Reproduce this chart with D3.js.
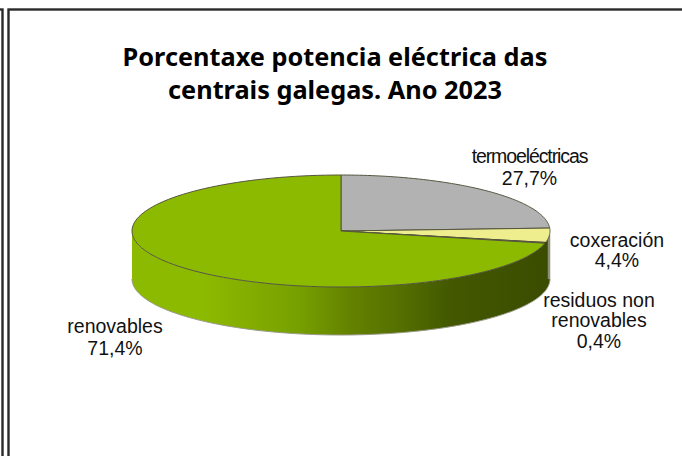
<!DOCTYPE html>
<html>
<head>
<meta charset="utf-8">
<script src="https://cdn.jsdelivr.net/npm/d3@7"></script>
<style>
  html, body { margin: 0; padding: 0; background: #fff; }
</style>
</head>
<body>
<div id="graph"></div>
<script>
var categories = ["termoeléctricas", "coxeración", "residuos non renovables", "renovables"];
var shares = [27.7, 4.4, 0.4, 71.4];
var shareLabels = ["27,7%", "4,4%", "0,4%", "71,4%"];
var titleLines = ["Porcentaxe potencia eléctrica das", "centrais galegas. Ano 2023"];

var width = 682, height = 456;
var cx = 341, cy = 231, rx = 209, ry = 56, depth = 48;
var colors = ["#b2b2b2", "#eeee8e", "#7a2e1e", "#8cba00"];

var svg = d3.select("#graph").append("svg")
    .attr("width", width)
    .attr("height", height)
    .style("display", "block");

// frames, the second runs off the page on the right and at the bottom
var frames = [[-20, 9.5, 22.5, 470], [8.5, 9.5, 700, 470]];
svg.selectAll("rect.frame").data(frames).enter().append("rect")
    .attr("class", "frame")
    .attr("x", function(d) { return d[0]; })
    .attr("y", function(d) { return d[1]; })
    .attr("width", function(d) { return d[2]; })
    .attr("height", function(d) { return d[3]; })
    .attr("fill", "none")
    .attr("stroke", "#2a2a2a")
    .attr("stroke-width", 2.4);

var pie = d3.pie().sort(null)(shares);

// the slices are seen in perspective, so the drawn angles are not the true ones
var deg = Math.PI / 180;
var warp = d3.scaleLinear()
    .domain([0, pie[0].endAngle, pie[1].endAngle, pie[2].endAngle, 2 * Math.PI])
    .range([0, 87 * deg, 101.8 * deg, 102.6 * deg, 360 * deg]);

function px(a) { return cx + rx * Math.sin(a); }
function py(a) { return cy - ry * Math.cos(a); }

function sweep(a0, a1) {
    var n = 120;
    return d3.range(n + 1).map(function(i) { return a0 + (a1 - a0) * i / n; });
}

var slices = pie.map(function(d, i) {
    return {i: i, a0: warp(d.startAngle), a1: warp(d.endAngle)};
});

// side gradient
var defs = svg.append("defs");
var grad = defs.append("linearGradient")
    .attr("id", "side")
    .attr("gradientUnits", "userSpaceOnUse")
    .attr("x1", cx - rx).attr("x2", cx + rx)
    .attr("y1", 0).attr("y2", 0);
var stops = [[0, "#8cba00"], [0.17, "#8cba00"], [0.28, "#84ad00"], [0.4, "#76a000"], [0.52, "#648200"], [0.64, "#557000"], [0.76, "#435800"], [0.88, "#3f5200"], [1, "#3a4c00"]];
grad.selectAll("stop").data(stops).enter().append("stop")
    .attr("offset", function(d) { return d[0]; })
    .attr("stop-color", function(d) { return d[1]; });

// visible part of the wall runs along the front half of the ellipse
var wall = d3.area()
    .x(function(a) { return px(a); })
    .y0(function(a) { return py(a); })
    .y1(function(a) { return py(a) + depth; });

svg.append("path")
    .attr("d", wall(sweep(90 * deg, 270 * deg)))
    .attr("fill", "url(#side)");

var edgeLine = d3.line().x(function(a) { return px(a); }).y(function(a) { return py(a) + depth; });
svg.append("path")
    .attr("d", edgeLine(sweep(90 * deg, 270 * deg)))
    .attr("fill", "none")
    .attr("stroke", "#9a9a8a")
    .attr("stroke-width", 1);

// lighter strip at the right end of the wall
svg.append("path")
    .attr("d", d3.line()([[px(90 * deg) - 1, py(90 * deg) + 4], [px(90 * deg) - 1, py(90 * deg) + depth]]))
    .attr("fill", "none")
    .attr("stroke", "#8d8d78")
    .attr("stroke-width", 2.5);

// top surface
var topLine = d3.line().x(function(p) { return p[0]; }).y(function(p) { return p[1]; });
svg.selectAll("path.slice").data(slices).enter().append("path")
    .attr("class", "slice")
    .attr("d", function(d) {
        var pts = [[cx, cy]].concat(sweep(d.a0, d.a1).map(function(a) { return [px(a), py(a)]; }));
        return topLine(pts) + "Z";
    })
    .attr("fill", function(d) { return colors[d.i]; })
    .attr("stroke", "#55553f")
    .attr("stroke-width", 1);

// labels
var labelFont = "'Liberation Sans', Arial, sans-serif";
var labelLines = [
    [categories[0], shareLabels[0]],
    [categories[1], shareLabels[1]],
    ["residuos non", "renovables", shareLabels[2]],
    [categories[3], shareLabels[3]]
];
var labelX = [529.5, 617, 599, 115];
var labelY = [[163, 185], [247, 267], [307, 327, 348], [333, 355]];
var labelTight = [[-1.1, 0], [0, 0], [0, 0, 0], [0, 0]];
labelLines.forEach(function(lines, i) {
    svg.append("g").selectAll("text").data(lines).enter().append("text")
        .attr("x", labelX[i])
        .attr("y", function(d, j) { return labelY[i][j]; })
        .attr("text-anchor", "middle")
        .attr("font-family", labelFont)
        .attr("font-size", 19.5)
        .attr("letter-spacing", function(d, j) { return labelTight[i][j]; })
        .attr("fill", "#111")
        .text(function(d) { return d; });
});

svg.append("g").selectAll("text").data(titleLines).enter().append("text")
    .attr("x", 335)
    .attr("y", function(d, i) { return 66 + i * 33; })
    .attr("text-anchor", "middle")
    .attr("font-family", "'Noto Sans', sans-serif")
    .attr("font-weight", 700)
    .attr("font-size", 25.3)
    .attr("fill", "#000")
    .text(function(d) { return d; });
</script>
</body>
</html>
